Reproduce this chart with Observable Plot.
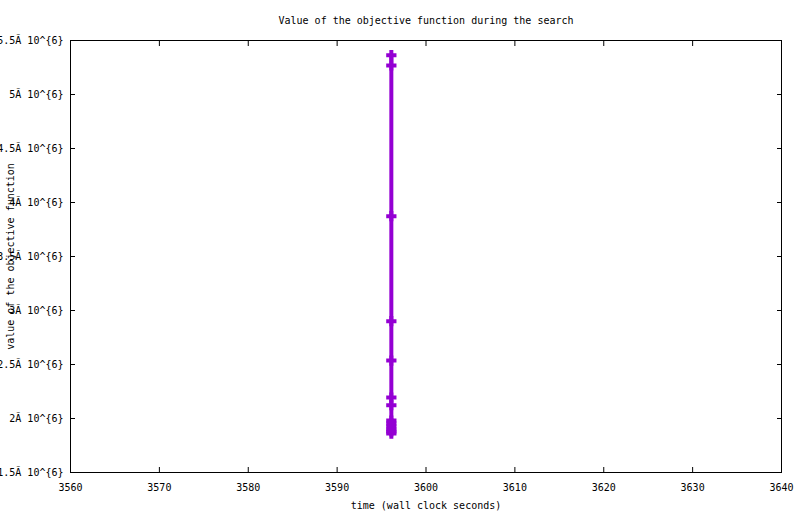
<!DOCTYPE html>
<html>
<head>
<meta charset="utf-8">
<script src="https://cdn.jsdelivr.net/npm/d3@7"></script>
<script src="https://cdn.jsdelivr.net/npm/@observablehq/plot@0.6"></script>
<style>
  body { margin: 0; background: #fff; }
</style>
</head>
<body>
<div id="chart"></div>
<script>
// values (all points fall at the same wall clock second)
const times = [3596.1, 3596.1, 3596.1, 3596.1, 3596.1, 3596.1, 3596.1, 3596.1, 3596.1, 3596.1, 3596.1, 3596.1, 3596.1];
const values = [5.364e6, 5.269e6, 3.873e6, 2.901e6, 2.537e6, 2.194e6, 2.123e6, 1.981e6, 1.954e6, 1.926e6, 1.898e6, 1.880e6, 1.861e6];
const xTicks = [3560, 3570, 3580, 3590, 3600, 3610, 3620, 3630, 3640];
const yTicks = [1.5e6, 2e6, 2.5e6, 3e6, 3.5e6, 4e6, 4.5e6, 5e6, 5.5e6];
const titleText = "Value of the objective function during the search";
const xLabel = "time (wall clock seconds)";
const yLabel = "value of the objective function";

const renderChart = () => {
    const points = times.map((t, i) => ({time: t, value: values[i]}));
    const purple = "#9400d3";
    // gnuplot style tick labels, mojibake and all
    const yFormat = d => `${d / 1e6}Ã 10^{6}`;

    const chart = Plot.plot({
        width: 800,
        height: 514,
        marginLeft: 70,
        marginRight: 19,
        marginTop: 40,
        marginBottom: 42,
        x: {domain: [3560, 3640]},
        y: {domain: [1.5e6, 5.5e6]},
        style: {
            fontFamily: '"DejaVu Sans Mono", monospace',
            fontSize: "10px",
            background: "white",
            color: "black"
        },
        marks: [
            Plot.frame({stroke: "black"}),
            // inward ticks on all four sides
            Plot.axisX(xTicks, {anchor: "bottom", tickSize: -5, tickFormat: () => "", label: null}),
            Plot.axisX(xTicks, {anchor: "top", tickSize: -5, tickFormat: () => "", label: null}),
            Plot.axisY(yTicks, {anchor: "left", tickSize: -5, tickFormat: () => "", label: null}),
            Plot.axisY(yTicks, {anchor: "right", tickSize: -5, tickFormat: () => "", label: null}),
            // tick labels
            Plot.axisX(xTicks, {anchor: "bottom", tickSize: 0, tickPadding: 11, tickFormat: d => String(d), label: null}),
            Plot.axisY(yTicks, {anchor: "left", tickSize: 0, tickPadding: 7, tickFormat: yFormat, label: null}),
            // titles
            Plot.text([titleText], {text: d => d, frameAnchor: "top", lineAnchor: "middle", dy: -20}),
            Plot.text([xLabel], {text: d => d, frameAnchor: "bottom", lineAnchor: "middle", dy: 33}),
            Plot.text([yLabel], {text: d => d, frameAnchor: "left", textAnchor: "middle", lineAnchor: "middle", rotate: -90, dx: -60}),
            // the data
            Plot.line(points, {x: "time", y: "value", stroke: purple, strokeWidth: 4}),
            Plot.dot(points, {x: "time", y: "value", symbol: "plus", r: 3.4, stroke: purple, strokeWidth: 4})
        ]
    });

    document.getElementById("chart").append(chart);
};

if (document.readyState === "loading") {
    document.addEventListener("DOMContentLoaded", renderChart);
} else {
    renderChart();
}
</script>
</body>
</html>
